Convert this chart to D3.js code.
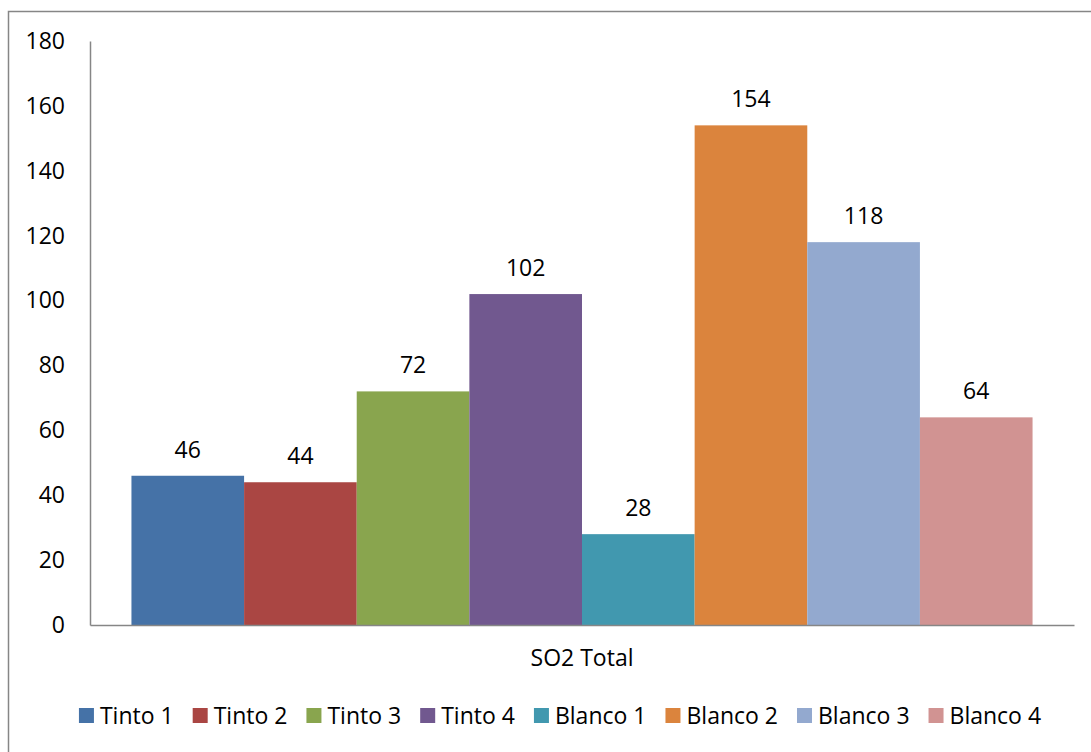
<!DOCTYPE html>
<html><head><meta charset="utf-8">
<script src="https://cdn.jsdelivr.net/npm/d3@7"></script>
<style>body{margin:0;background:#fff}svg{display:block}text{font-family:"Open Sans",sans-serif;fill:#000}</style>
</head><body><svg id="c" width="1091" height="752"></svg>
<script>
const categories = ["SO2 Total"];
const series = ["Tinto 1","Tinto 2","Tinto 3","Tinto 4","Blanco 1","Blanco 2","Blanco 3","Blanco 4"];
const values = [46,44,72,102,28,154,118,64];
const colors = ["#4572A7","#AA4643","#89A54E","#71588F","#4198AF","#DB843D","#93A9CF","#D19392"];
const yTicks = [0,20,40,60,80,100,120,140,160,180];

const FS = "23px";
const svg = d3.select("#c");
svg.append("rect").attr("x",8.5).attr("y",11.5).attr("width",1100).attr("height",800)
  .attr("fill","none").attr("stroke","#868686").attr("stroke-width",1.5);

const L=90, R=1074, T=41, B=625;
const y = d3.scaleLinear().domain([0,180]).range([B,T]);
const xCat = d3.scaleBand().domain(categories).range([L,R]).paddingOuter(0.046).paddingInner(0);
const xS = d3.scaleBand().domain(series).range([xCat(categories[0]), xCat(categories[0])+xCat.bandwidth()]).padding(0);

const yAxis = svg.append("g").attr("transform",`translate(${L},0)`)
  .call(d3.axisLeft(y).tickValues(yTicks).tickSize(0).tickPadding(25));
yAxis.select(".domain").attr("stroke","#868686").attr("stroke-width",1.5);
yAxis.selectAll("text").style("font-size",FS).style("font-family","Open Sans");

svg.append("g").selectAll("rect").data(values).join("rect")
  .attr("x",(d,i)=>xS(series[i])).attr("width",xS.bandwidth())
  .attr("y",d=>y(d)).attr("height",d=>B-y(d)).attr("fill",(d,i)=>colors[i]);

svg.append("g").selectAll("text").data(values).join("text")
  .attr("x",(d,i)=>xS(series[i])+xS.bandwidth()/2).attr("y",d=>y(d)-18)
  .attr("text-anchor","middle").style("font-size",FS).text(d=>d);

const xAxis = svg.append("g").attr("transform",`translate(0,${B})`)
  .call(d3.axisBottom(xCat).tickSize(0).tickPadding(25));
xAxis.select(".domain").attr("stroke","#868686").attr("stroke-width",1.5);
xAxis.selectAll("text").style("font-size",FS).style("font-family","Open Sans");

// legend
const lg = svg.append("g");
const items = lg.selectAll("g").data(series).join("g");
items.append("rect").attr("width",15).attr("height",15).attr("y",-8).attr("fill",(d,i)=>colors[i]);
items.append("text").attr("x",21).attr("dy","0.35em").style("font-size",FS).text(d=>d);
let xpos=0;
items.each(function(d){
  const w=this.querySelector("text").getComputedTextLength();
  d3.select(this).attr("transform",`translate(${xpos},0)`);
  xpos+=21+w+19;
});
const total=xpos-19;
lg.attr("transform",`translate(${560-total/2},716)`);
</script></body></html>
